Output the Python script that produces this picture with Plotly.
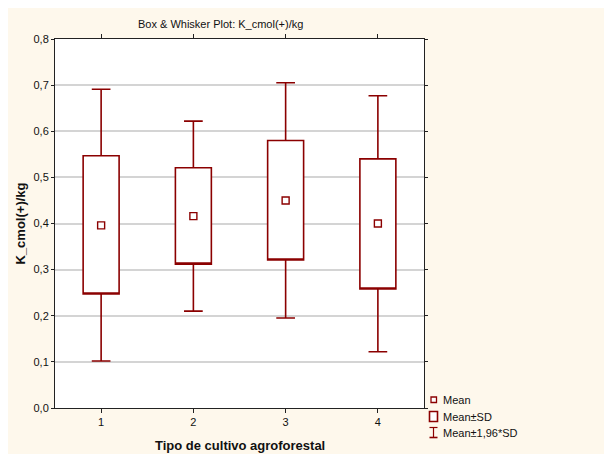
import plotly.graph_objects as go

# Tipo de cultivo agroforestal
groups = [1, 2, 3, 4]
# values (K_cmol(+)/kg)
means = [0.396, 0.416, 0.450, 0.400]
sd_low = [0.247, 0.312, 0.321, 0.258]
sd_high = [0.547, 0.521, 0.580, 0.540]
ci_low = [0.102, 0.210, 0.195, 0.122]
ci_high = [0.691, 0.622, 0.705, 0.677]

DARK_RED = "#8B0000"
CREAM = "#FEF8EC"
FONT = "Liberation Sans, Arial, sans-serif"

# the page body adds an 8px margin, so screen positions are shifted by 8
OFF = 8
# plot area in screen pixels
L, R, T, B = 55, 424, 39, 408
W, H = R - L, B - T


def px_x(x):
    return (x - L) / W


def px_y(y):
    return (B - y) / H


fig = go.Figure()

fig.add_trace(
    go.Box(
        x=groups,
        q1=sd_low,
        median=sd_low,
        q3=sd_high,
        lowerfence=ci_low,
        upperfence=ci_high,
        width=0.39,
        whiskerwidth=0.52,
        fillcolor="white",
        line=dict(color=DARK_RED, width=1.6),
        boxpoints=False,
        showlegend=False,
    )
)
fig.add_trace(
    go.Scatter(
        x=groups,
        y=means,
        mode="markers",
        marker=dict(symbol="square-open", size=7, color=DARK_RED, line=dict(width=1.4)),
        showlegend=False,
    )
)

shapes = [
    # legend symbols
    dict(type="rect", xref="paper", yref="paper", x0=px_x(431), x1=px_x(436.5), y0=px_y(402.5), y1=px_y(397),
         line=dict(color=DARK_RED, width=1.3), fillcolor="white"),
    dict(type="rect", xref="paper", yref="paper", x0=px_x(429.5), x1=px_x(437.5), y0=px_y(421.5), y1=px_y(411.5),
         line=dict(color=DARK_RED, width=1.6), fillcolor="white"),
    dict(type="line", xref="paper", yref="paper", x0=px_x(433.5), x1=px_x(433.5), y0=px_y(437.5), y1=px_y(427.5),
         line=dict(color=DARK_RED, width=1.2)),
    dict(type="line", xref="paper", yref="paper", x0=px_x(429.5), x1=px_x(437.5), y0=px_y(427.5), y1=px_y(427.5),
         line=dict(color=DARK_RED, width=1.2)),
    dict(type="line", xref="paper", yref="paper", x0=px_x(429.5), x1=px_x(437.5), y0=px_y(437.5), y1=px_y(437.5),
         line=dict(color=DARK_RED, width=1.6)),
]

annotations = [
    dict(text="Box & Whisker Plot: K_cmol(+)/kg", x=px_x(220), y=px_y(24), font=dict(size=11, color="#111111")),
    dict(text="<b>Tipo de cultivo agroforestal</b>", x=0.5, y=px_y(445), font=dict(size=13, color="#111111")),
    dict(text="<b>K_cmol(+)/kg</b>", x=px_x(20), y=0.5, textangle=-90, font=dict(size=13, color="#111111")),
]
for label, ypix in [("Mean", 400), ("Mean±SD", 416.5), ("Mean±1,96*SD", 432.5)]:
    annotations.append(
        dict(text=label, x=px_x(441), y=px_y(ypix), xanchor="left", font=dict(size=11, color="#111111"))
    )
for a in annotations:
    a.setdefault("xanchor", "center")
    a.update(xref="paper", yref="paper", yanchor="middle", showarrow=False)

fig.update_layout(
    width=612,
    height=454,
    margin=dict(l=L - OFF, r=612 - R + OFF, t=T - OFF, b=454 - B + OFF),
    paper_bgcolor=CREAM,
    plot_bgcolor="white",
    separators=",.",
    font=dict(family=FONT, size=11, color="#111111"),
    shapes=shapes,
    annotations=annotations,
    showlegend=False,
    xaxis=dict(
        range=[0.5, 4.5],
        tickvals=groups,
        showgrid=False,
        zeroline=False,
        showline=True,
        linecolor="#222222",
        linewidth=1,
        mirror="ticks",
        ticks="outside",
        ticklen=4,
        tickcolor="#222222",
    ),
    yaxis=dict(
        range=[0, 0.8],
        dtick=0.1,
        tickformat=".1f",
        showgrid=True,
        gridcolor="#D4D4D4",
        gridwidth=1.5,
        zeroline=False,
        showline=True,
        linecolor="#222222",
        linewidth=1,
        mirror="ticks",
        ticks="outside",
        ticklen=3,
        tickcolor="#222222",
    ),
)

fig.write_html("out.html")
